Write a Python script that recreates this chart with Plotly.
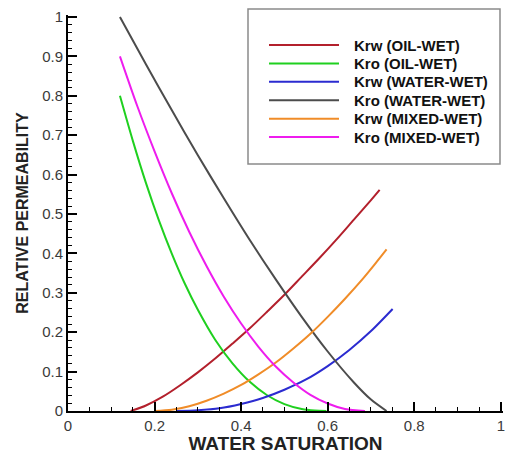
import plotly.graph_objects as go

# Relative permeability curves vs. water saturation
sw_krw_oil = [0.145, 0.18, 0.22, 0.26, 0.30, 0.34, 0.38, 0.42, 0.46, 0.50, 0.54, 0.58, 0.62, 0.66, 0.70, 0.72]
krw_oil = [0.0, 0.014, 0.037, 0.066, 0.098, 0.133, 0.171, 0.210, 0.252, 0.295, 0.341, 0.387, 0.435, 0.485, 0.535, 0.561]

sw_kro_oil = [0.12, 0.15, 0.18, 0.21, 0.24, 0.27, 0.30, 0.34, 0.38, 0.42, 0.46, 0.50, 0.54, 0.57, 0.597]
kro_oil = [0.80, 0.685, 0.579, 0.484, 0.399, 0.323, 0.257, 0.181, 0.121, 0.074, 0.040, 0.0175, 0.005, 0.001, 0.0]

sw_krw_water = [0.25, 0.30, 0.35, 0.40, 0.45, 0.50, 0.55, 0.60, 0.65, 0.70, 0.75]
krw_water = [0.0, 0.002, 0.007, 0.018, 0.033, 0.054, 0.080, 0.114, 0.155, 0.203, 0.259]

sw_kro_water = [0.12, 0.18, 0.24, 0.30, 0.36, 0.42, 0.48, 0.54, 0.60, 0.66, 0.70, 0.736]
kro_water = [1.0, 0.880, 0.763, 0.649, 0.540, 0.434, 0.334, 0.239, 0.151, 0.073, 0.029, 0.0]

sw_krw_mixed = [0.20, 0.24, 0.28, 0.32, 0.36, 0.40, 0.44, 0.48, 0.52, 0.56, 0.60, 0.64, 0.68, 0.71, 0.736]
krw_mixed = [0.0, 0.003, 0.012, 0.026, 0.044, 0.066, 0.093, 0.123, 0.158, 0.196, 0.239, 0.285, 0.334, 0.374, 0.41]

sw_kro_mixed = [0.12, 0.16, 0.20, 0.24, 0.28, 0.32, 0.36, 0.40, 0.44, 0.48, 0.52, 0.56, 0.60, 0.64, 0.686]
kro_mixed = [0.90, 0.774, 0.659, 0.552, 0.455, 0.368, 0.290, 0.222, 0.163, 0.113, 0.073, 0.041, 0.019, 0.005, 0.0]

series = [
    ("Krw (OIL-WET)", sw_krw_oil, krw_oil, "#b3202c"),
    ("Kro (OIL-WET)", sw_kro_oil, kro_oil, "#1fd01f"),
    ("Krw (WATER-WET)", sw_krw_water, krw_water, "#2b2bd0"),
    ("Kro (WATER-WET)", sw_kro_water, kro_water, "#4c4c4c"),
    ("Krw (MIXED-WET)", sw_krw_mixed, krw_mixed, "#f08c28"),
    ("Kro (MIXED-WET)", sw_kro_mixed, kro_mixed, "#ee1cee"),
]

x_ticks = [0, 0.2, 0.4, 0.6, 0.8, 1]
x_ticktext = ["0", "0.2", "0.4", "0.6", "0.8", "1"]
y_ticks = [0, 0.1, 0.2, 0.3, 0.4, 0.5, 0.6, 0.7, 0.8, 0.9, 1]
y_ticktext = ["0", "0.1", "0.2", "0.3", "0.4", "0.5", "0.6", "0.7", "0.8", "0.9", "1"]

# minor tick spacing: 4 subdivisions on x, 5 on y
x_minor = [round(i * 0.05, 4) for i in range(21)]
y_minor = [round(i * 0.02, 4) for i in range(51)]

# a hair of headroom so the end ticks at 1 are still drawn
AX_RANGE = [0, 1.005]

FONT = "Liberation Sans, Arial, sans-serif"

fig = go.Figure()
for name, xs, ys, color in series:
    fig.add_trace(go.Scatter(
        x=xs, y=ys, mode="lines", name=name, showlegend=False,
        line=dict(color=color, width=2, shape="spline", smoothing=0.8),
    ))

axis_common = dict(
    showline=True, linecolor="black", linewidth=2,
    showgrid=False, zeroline=False, mirror=False,
    ticks="inside", ticklen=9, tickwidth=2, tickcolor="black",
    tickfont=dict(family=FONT, size=15, color="#3a3a3a"),
    ticklabeloverflow="allow",
    automargin=False, range=AX_RANGE,
)

fig.update_xaxes(
    **axis_common,
    tickmode="array", tickvals=x_ticks, ticktext=x_ticktext,
    minor=dict(ticks="inside", ticklen=4, tickwidth=1, tickcolor="black", tickmode="array", tickvals=x_minor),
    title=dict(text="WATER SATURATION", font=dict(family=FONT, size=19, color="#222222", weight="bold"), standoff=3),
)
fig.update_yaxes(
    **axis_common,
    tickmode="array", tickvals=y_ticks, ticktext=y_ticktext,
    minor=dict(ticks="inside", ticklen=4, tickwidth=1, tickcolor="black", tickmode="array", tickvals=y_minor),
    title=dict(text="RELATIVE PERMEABILITY", font=dict(family=FONT, size=16, color="#222222", weight="bold"), standoff=10),
)

# Legend frame and entries (line sample + label per series)
fig.add_shape(type="rect", xref="paper", yref="paper",
              x0=0.4138, x1=0.9931, y0=0.6237, y1=1.0152,
              line=dict(color="#8a8a8a", width=1.5), fillcolor="rgba(0,0,0,0)")

leg_top, leg_step = 0.9242, 0.0465
for i, (name, _, _, color) in enumerate(series):
    yy = leg_top - i * leg_step
    fig.add_shape(type="line", xref="paper", yref="paper",
                  x0=0.4621, x1=0.6230, y0=yy, y1=yy,
                  line=dict(color=color, width=2))
    fig.add_annotation(xref="paper", yref="paper", x=0.6529, y=yy,
                       xanchor="left", yanchor="middle", showarrow=False,
                       text=name, font=dict(family=FONT, size=15, color="#111111", weight="bold"))

fig.update_layout(
    width=505, height=454,
    margin=dict(l=68, r=2, t=15, b=43),
    paper_bgcolor="white", plot_bgcolor="white",
    showlegend=False,
)

fig.write_html("out.html")
